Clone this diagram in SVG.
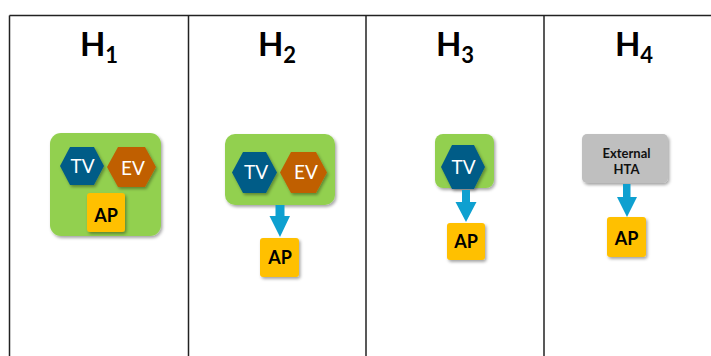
<svg xmlns="http://www.w3.org/2000/svg" width="711" height="356" viewBox="0 0 711 356">
  <defs>
    <filter id="sh" x="-20%" y="-20%" width="150%" height="150%">
      <feDropShadow dx="1.5" dy="2" stdDeviation="1.5" flood-color="#000" flood-opacity="0.35"/>
    </filter>
    <style>
      .grid { stroke: #222; stroke-width: 1.5; fill: none; }
      .head { font-family: Lato, "Open Sans", "Liberation Sans", sans-serif; font-weight: bold; font-size: 33px; fill: #000; text-anchor: middle; }
      .sub { font-size: 22px; }
      .green { fill: #92D050; filter: url(#sh); }
      .tv { fill: #005B87; filter: url(#sh); }
      .ev { fill: #C05F00; filter: url(#sh); }
      .ap { fill: #FFC000; filter: url(#sh); }
      .gray { fill: #BFBFBF; filter: url(#sh); }
      .hexlabel { font-family: Lato, "Open Sans", "Liberation Sans", sans-serif; font-size: 19px; fill: #fff; text-anchor: middle; }
      .aplabel { font-family: Lato, "Open Sans", "Liberation Sans", sans-serif; font-weight: bold; font-size: 18px; fill: #000; text-anchor: middle; }
      .htalabel { font-family: Lato, "Open Sans", "Liberation Sans", sans-serif; font-weight: bold; font-size: 13px; fill: #111; text-anchor: middle; }
      .arrow { fill: #0EA0D0; }
    </style>
  </defs>

  <g id="grid">
    <line class="grid" x1="9.5" y1="15.5" x2="711" y2="15.5"/>
    <line class="grid" x1="9.5" y1="15.5" x2="9.5" y2="356"/>
    <line class="grid" x1="188.5" y1="15.5" x2="188.5" y2="356"/>
    <line class="grid" x1="366" y1="15.5" x2="366" y2="356"/>
    <line class="grid" x1="544" y1="15.5" x2="544" y2="356"/>
  </g>

  <g id="headings">
    <text class="head" x="99" y="56">H<tspan class="sub" dy="7">1</tspan></text>
    <text class="head" x="277" y="56">H<tspan class="sub" dy="7">2</tspan></text>
    <text class="head" x="455" y="56">H<tspan class="sub" dy="7">3</tspan></text>
    <text class="head" x="634" y="56">H<tspan class="sub" dy="7">4</tspan></text>
  </g>

  <!-- H1 -->
  <g id="h1-group">
    <rect class="green" x="50" y="133" width="111" height="103" rx="11"/>
    <g id="h1-tv">
      <polygon class="tv" points="60,166 70,147 94,147 104,166 94,185 70,185"/>
      <text class="hexlabel" x="82.5" y="172.5">TV</text>
    </g>
    <g id="h1-ev">
      <polygon class="ev" points="107,167 118,147 145,147 156,167 145,187 118,187"/>
      <text class="hexlabel" x="133" y="174.5">EV</text>
    </g>
    <g id="h1-ap">
      <rect class="ap" x="87" y="193" width="38" height="39" rx="3"/>
      <text class="aplabel" x="106" y="221.5">AP</text>
    </g>
  </g>

  <!-- H2 -->
  <g id="h2-group">
    <rect class="green" x="225" y="134" width="110" height="71" rx="10"/>
    <g id="h2-tv">
      <polygon class="tv" points="232,172.5 243,152 266,152 277,172.5 266,193 243,193"/>
      <text class="hexlabel" x="256" y="179">TV</text>
    </g>
    <g id="h2-ev">
      <polygon class="ev" points="280,172.5 291,152 316,152 327,172.5 316,193 291,193"/>
      <text class="hexlabel" x="306" y="179">EV</text>
    </g>
  </g>
  <g id="h2-ap">
    <rect class="ap" x="260" y="238" width="39" height="39" rx="3"/>
    <text class="aplabel" x="280" y="263.5">AP</text>
  </g>

  <!-- H3 -->
  <g id="h3-group">
    <rect class="green" x="435" y="134" width="59" height="54" rx="8"/>
    <g id="h3-tv">
      <polygon class="tv" points="441,167 452,145 474,145 485,167 474,189 452,189"/>
      <text class="hexlabel" x="463.5" y="173.5">TV</text>
    </g>
  </g>
  <g id="h3-ap">
    <rect class="ap" x="447" y="223" width="38" height="37" rx="3"/>
    <text class="aplabel" x="466" y="248">AP</text>
  </g>

  <!-- H4 -->
  <g id="h4-hta">
    <rect class="gray" x="582" y="134" width="86" height="49" rx="5"/>
    <text class="htalabel" x="626.5" y="157.5">External</text>
    <text class="htalabel" x="626.5" y="174">HTA</text>
  </g>
  <g id="h4-ap">
    <rect class="ap" x="607" y="217" width="39" height="40" rx="3"/>
    <text class="aplabel" x="626.5" y="245">AP</text>
  </g>

  <g id="connectors">
    <polygon class="arrow" points="275.5,205 284.5,205 284.5,216 290,216 280,237 269.5,216 275.5,216"/>
    <polygon class="arrow" points="462,190 470,190 470,202 476.5,202 466,222 455.5,202 462,202"/>
    <polygon class="arrow" points="623,184 630.5,184 630.5,197 637,197 627,217 617,197 623,197"/>
  </g>
</svg>
